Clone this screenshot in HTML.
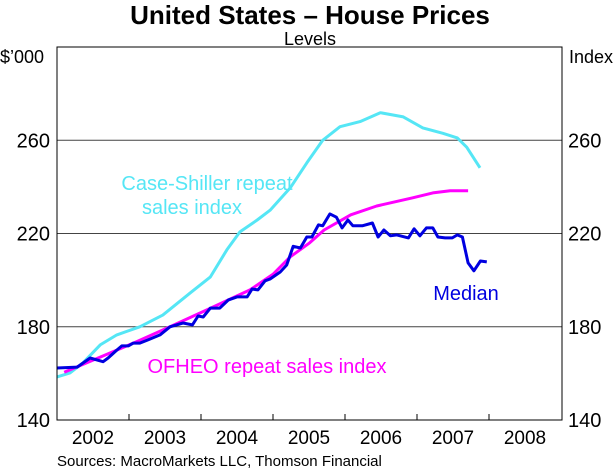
<!DOCTYPE html>
<html><head><meta charset="utf-8"><style>
html,body{margin:0;padding:0;background:#fff;}
svg{display:block;font-family:"Liberation Sans",Arial,sans-serif;}
</style></head><body>
<svg id="chart" width="615" height="469" viewBox="0 0 615 469">
<text x="310" y="24" text-anchor="middle" font-size="26" font-weight="bold">United States – House Prices</text>
<text x="310" y="45" text-anchor="middle" font-size="18">Levels</text>
<text x="0" y="63" font-size="18">$’000</text>
<text x="569" y="63" font-size="18">Index</text>
<g id="grid"></g>
<g id="series"></g>
<rect x="57" y="47" width="505" height="373" fill="none" stroke="#000" stroke-width="1"/>
<g id="axes"></g>
<text x="207" y="190" text-anchor="middle" font-size="20" fill="#55e6f5">Case-Shiller repeat</text>
<text x="192" y="214" text-anchor="middle" font-size="20" fill="#55e6f5">sales index</text>
<text x="466" y="300" text-anchor="middle" font-size="20" fill="#0000e0">Median</text>
<text x="267" y="373" text-anchor="middle" font-size="20" fill="#ff00ff">OFHEO repeat sales index</text>
<text x="57" y="466" font-size="15">Sources: MacroMarkets LLC, Thomson Financial</text>
</svg>
<script>
const yTicks=[140,180,220,260];
const years=[2002,2003,2004,2005,2006,2007,2008];
const medianT=[2002.0,2002.28,2002.46,2002.64,2002.71,2002.83,2002.9,2002.99,2003.06,2003.15,2003.26,2003.43,2003.57,2003.75,2003.88,2003.96,2004.03,2004.13,2004.26,2004.38,2004.5,2004.64,2004.71,2004.79,2004.89,2004.96,2005.1,2005.19,2005.28,2005.38,2005.47,2005.54,2005.63,2005.69,2005.79,2005.88,2005.96,2006.04,2006.11,2006.24,2006.38,2006.46,2006.54,2006.63,2006.72,2006.88,2006.96,2007.04,2007.13,2007.22,2007.29,2007.39,2007.49,2007.56,2007.63,2007.71,2007.79,2007.88,2007.97];
const medianV=[162.3,162.7,166.6,165,166.6,170,171.8,171.8,173,173,174.3,176.5,180,181.6,180.8,184.6,184.2,188,188,191.5,192.8,192.8,196.2,195.8,199.7,200.5,203.5,206.5,214.5,213.8,218.5,218.5,223.7,223.3,228.4,227,222.4,225.8,223.3,223.3,224.5,218.5,221.5,219,219.4,218.1,222,219,222.4,222.4,218.5,218.1,218.1,219.4,218.5,207.4,204,208.2,207.8];
const csT=[2002.0,2002.18,2002.36,2002.6,2002.83,2003.15,2003.47,2003.85,2004.13,2004.36,2004.54,2004.78,2004.96,2005.24,2005.47,2005.69,2005.93,2006.21,2006.49,2006.81,2007.08,2007.36,2007.56,2007.69,2007.875];
const csV=[158.5,160.2,164.5,172.2,176.5,180,185,194.5,201.4,213,220.7,225.8,230,239.6,250.3,260,265.8,268,271.8,270,265.3,263,261,257,248.2];
const ofT=[2002.1,2002.6,2003.1,2003.57,2004.1,2004.68,2005.0,2005.24,2005.51,2005.71,2006.08,2006.44,2006.94,2007.22,2007.46,2007.71];
const ofV=[160.5,167,173.5,180,187.5,195.8,202.5,210,216,221.5,228,231.8,235.3,237.4,238.3,238.3];

const X0=57,YR=72,PY0=420,PYH=373,VMIN=140,VMAX=300;
function xs(t){return X0+(t-2002)*YR;}
function ys(v){return PY0-(v-VMIN)/(VMAX-VMIN)*PYH;}
const NS="http://www.w3.org/2000/svg";
function mk(tag,attrs,parent){const e=document.createElementNS(NS,tag);for(const k in attrs)e.setAttribute(k,attrs[k]);parent.appendChild(e);return e;}
const grid=document.getElementById('grid'),axes=document.getElementById('axes'),ser=document.getElementById('series');
yTicks.forEach(v=>{
  if(v>VMIN){const l=mk('line',{x1:57,x2:562,y1:ys(v),y2:ys(v),stroke:'#444','stroke-width':1},grid);
  
  }
  const a=mk('text',{x:50,y:ys(v)+7,'text-anchor':'end','font-size':20},axes);a.textContent=v;
  
  
  const b=mk('text',{x:568,y:ys(v)+7,'font-size':20},axes);b.textContent=v;
  
  
});
years.forEach(y=>{
  if(y>2002){const t=mk('line',{x1:xs(y),x2:xs(y),y1:414,y2:420,stroke:'#000'},axes);
  
  }
  const l=mk('text',{x:xs(y+0.5),y:444,'text-anchor':'middle','font-size':19},axes);l.textContent=y;
  
  
});
function line(T,V,color){return mk('polyline',{points:T.map((t,i)=>xs(t).toFixed(1)+','+ys(V[i]).toFixed(1)).join(' '),fill:'none',stroke:color,'stroke-width':3,'stroke-linejoin':'round'},ser);}
const c=line(csT,csV,'#55e6f5');


const o=line(ofT,ofV,'#ff00ff');


const m=line(medianT,medianV,'#0000e0');


</script>
</body></html>
